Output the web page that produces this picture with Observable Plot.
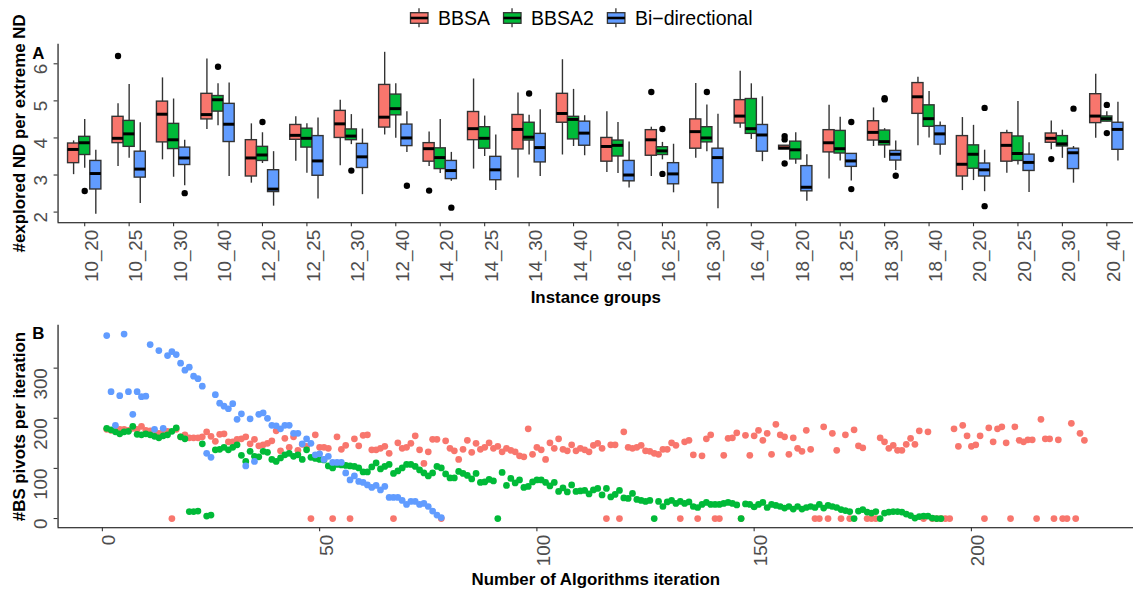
<!DOCTYPE html>
<html><head><meta charset="utf-8">
<script src="https://cdn.jsdelivr.net/npm/d3@7"></script>
<script src="https://cdn.jsdelivr.net/npm/@observablehq/plot@0.6"></script>
<style>
html,body{margin:0;padding:0;background:#fff;overflow:hidden;width:1133px;height:594px;}
#root{position:relative;width:1133px;height:594px;overflow:hidden;font-family:"Liberation Sans",Arial,Helvetica,sans-serif;}
#root svg{position:absolute;left:0;}
</style></head><body><div id="root"></div>
<script>
// ---------- data: panel A (box statistics) ----------
const groups = ["10_20","10_25","10_30","10_40","12_20","12_25","12_30","12_40","14_20","14_25","14_30","14_40","16_20","16_25","16_30","16_40","18_20","18_25","18_30","18_40","20_20","20_25","20_30","20_40"];
const methods = ["BBSA","BBSA2","Bi\u2212directional"];
const colors = ["#F8766D","#00BA38","#619CFF"];

// [lower whisker, Q1, median, Q3, upper whisker] per group
const bbsaStats = [[3.01,3.32,3.69,3.85,3.92],[3.23,3.86,3.99,4.57,4.92],[3.41,3.88,4.64,4.98,5.62],[4.23,4.50,4.63,5.19,6.13],[2.78,2.96,3.46,3.94,4.38],[3.37,3.95,4.07,4.35,4.57],[3.25,4.00,4.38,4.73,5.02],[4.08,4.28,4.56,5.43,6.31],[3.23,3.36,3.71,3.86,4.16],[3.16,3.94,4.25,4.70,5.59],[2.92,3.69,4.23,4.62,5.21],[3.54,4.41,4.66,5.19,6.11],[3.07,3.36,3.77,4.00,4.71],[2.96,3.52,3.95,4.21,4.29],[3.45,3.71,4.17,4.50,5.47],[4.26,4.39,4.59,5.02,5.80],[3.69,3.69,3.73,3.79,3.79],[2.89,3.61,3.87,4.21,4.88],[3.77,3.93,4.15,4.45,4.81],[3.79,4.65,5.11,5.48,5.64],[2.58,2.96,3.29,4.05,4.55],[3.05,3.36,3.80,4.13,4.21],[3.68,3.87,3.99,4.12,4.46],[3.99,4.40,4.59,5.18,5.72]];
const bbsa2Stats = [[3.18,3.54,3.87,4.03,4.50],[3.45,3.76,4.11,4.46,5.44],[2.94,3.70,3.95,4.38,5.05],[4.33,4.71,5.03,5.13,5.46],[3.31,3.38,3.54,3.76,4.14],[3.05,3.74,3.99,4.25,4.38],[3.82,3.94,4.05,4.23,4.63],[3.99,4.61,4.79,5.17,5.46],[3.04,3.16,3.47,3.72,4.50],[3.50,3.71,3.99,4.29,4.59],[3.54,3.93,4.02,4.41,4.61],[3.77,3.96,4.50,4.57,5.31],[3.04,3.50,3.80,3.93,4.42],[3.41,3.54,3.65,3.75,3.88],[3.63,3.88,4.00,4.29,4.89],[3.96,4.11,4.25,5.05,5.46],[3.29,3.42,3.68,3.90,4.14],[3.38,3.58,3.71,4.19,4.56],[3.45,3.80,3.90,4.20,4.25],[4.00,4.30,4.52,4.88,5.25],[2.85,3.17,3.56,3.80,4.34],[3.27,3.38,3.58,4.04,4.98],[3.45,3.77,3.84,4.05,4.21],[4.44,4.44,4.52,4.58,4.71]];
const biStats = [[1.94,2.61,3.04,3.38,3.67],[2.23,2.93,3.16,3.63,4.41],[2.71,3.27,3.46,3.74,3.94],[2.96,3.89,4.37,4.92,5.48],[2.16,2.54,2.62,3.13,3.63],[2.35,2.98,3.38,4.05,4.54],[2.47,3.19,3.49,3.84,4.24],[3.61,3.78,4.00,4.36,4.71],[2.83,2.89,3.12,3.38,3.61],[2.58,2.86,3.14,3.49,4.08],[2.96,3.34,3.74,4.11,4.76],[3.52,3.79,4.13,4.44,4.60],[2.65,2.83,3.00,3.38,3.89],[2.52,2.75,3.03,3.32,3.83],[2.09,2.78,3.47,3.71,4.64],[3.36,3.63,4.08,4.35,5.11],[2.29,2.56,2.67,3.24,3.55],[2.84,3.22,3.38,3.57,3.57],[3.12,3.39,3.56,3.65,3.92],[3.53,3.82,4.11,4.32,4.43],[2.55,2.96,3.14,3.31,3.67],[2.53,3.11,3.34,3.55,3.87],[2.78,3.16,3.60,3.71,3.77],[3.38,3.68,4.23,4.41,4.96]];
// outliers: [group, method index, value]
const outliers = [["10_20",1,2.57],["10_25",0,6.21],["10_30",2,2.51],["10_40",1,5.92],["12_20",1,4.43],["12_30",1,3.12],["12_40",2,2.71],["14_20",0,2.58],["14_20",2,2.12],["14_30",1,5.20],["16_25",0,5.24],["16_25",1,4.24],["16_25",1,3.03],["16_30",1,5.24],["18_20",0,4.05],["18_20",0,3.96],["18_20",0,3.31],["18_25",2,4.43],["18_25",2,2.62],["18_30",1,5.04],["18_30",1,5.07],["18_30",2,2.98],["20_20",2,4.81],["20_20",2,2.16],["20_30",0,3.43],["20_30",2,4.79],["20_40",1,4.89],["20_40",1,4.13]];
const yTicksA = [2,3,4,5,6];

// ---------- data: panel B (pivots per iteration, iteration = index + 1) ----------
const bbsaPivots = [178,176,175,178,178,176,180,178,184,176,175,172,170,176,174,0,178,163,167,161,161,161,163,173,164,154,168,169,153,153,158,159,163,149,158,145,147,150,155,175,135,160,142,163,136,148,144,0,167,142,142,140,0,163,138,146,0,159,145,166,167,137,137,140,144,130,0,151,140,142,150,165,137,110,133,158,158,0,155,140,135,118,138,156,132,150,138,142,151,140,144,133,140,136,133,125,123,179,128,142,137,118,151,140,159,138,135,147,135,140,137,133,146,150,140,0,147,147,0,173,142,140,142,146,135,134,130,128,138,138,151,146,0,153,156,127,0,125,159,167,0,0,126,160,161,171,0,166,126,165,176,156,170,128,188,167,163,128,161,140,134,176,138,0,0,183,0,170,136,0,167,0,177,145,141,0,0,0,161,153,140,146,136,136,148,160,148,175,0,173,0,0,0,0,0,179,144,186,165,144,147,165,0,181,153,179,183,151,0,183,156,153,157,157,0,198,159,159,0,157,0,0,190,0,170,156];
const bbsa2Pivots = [180,177,173,169,173,174,184,168,167,169,167,164,161,165,167,174,181,163,159,14,14,15,149,5,7,137,138,142,137,142,147,126,114,134,124,123,134,132,118,114,121,127,130,124,127,118,137,122,120,118,117,105,101,108,107,106,105,104,101,93,93,103,111,99,104,108,90,95,101,108,108,104,97,91,85,91,104,101,89,81,81,94,90,86,79,90,72,73,78,75,0,92,66,80,71,77,62,64,73,77,77,72,65,72,54,61,53,67,54,55,56,49,57,60,47,60,43,48,56,41,40,50,38,36,34,36,0,34,24,33,36,30,34,30,33,24,22,28,32,28,28,28,30,32,30,27,0,29,28,23,28,32,22,28,26,24,21,24,19,24,19,22,24,22,28,21,26,24,22,18,16,14,0,15,18,13,11,14,0,11,13,14,14,13,9,6,1,4,5,5,1,0,0];
const biPivots = [365,253,186,245,368,253,208,253,243,244,347,178,335,180,325,333,327,310,296,302,284,279,264,130,122,247,230,224,219,229,198,209,105,199,114,208,211,200,186,185,179,186,186,170,170,149,159,150,127,129,118,124,112,112,112,91,77,85,74,72,67,62,66,57,64,42,42,42,36,28,34,34,28,30,24,15,7,2];
const xTicksB = [0,50,100,150,200];
const yTicksB = [0,100,200,300];

// ---------- build tables ----------
const statsByMethod = [bbsaStats, bbsa2Stats, biStats];
const boxRows = [];
statsByMethod.forEach((arr, m) => arr.forEach((s, g) => {
  const xc = g + 1 + (m - 1) * 0.25;
  boxRows.push({method: methods[m], xc, x1: xc - 0.125, x2: xc + 0.125, lo: s[0], q1: s[1], med: s[2], q3: s[3], hi: s[4]});
}));
const outRows = outliers.map(([g, m, v]) => ({xc: groups.indexOf(g) + 1 + (m - 1) * 0.25, v}));
const pivotRows = [];
[bbsaPivots, bbsa2Pivots, biPivots].forEach((arr, m) => arr.forEach((v, i) => pivotRows.push({method: methods[m], iter: i + 1, v})));

const FONT = '"Liberation Sans", Arial, Helvetica, sans-serif';
const W = 1142;
const TICK = 19;
const gray = "#4D4D4D";
const root = document.getElementById("root");

// ---------- panel A ----------
const xDomA = [0.4, 24.6], yDomA = [1.713, 6.53];
const plotA = Plot.plot({
  width: W, height: 305,
  marginLeft: 58, marginRight: 0, marginTop: 44, marginBottom: 81,
  x: {domain: xDomA, label: null},
  y: {domain: yDomA, label: null},
  color: {domain: methods, range: colors},
  style: {fontFamily: FONT, background: "transparent", overflow: "visible"},
  marks: [
    Plot.ruleX(boxRows, {x: "xc", y1: "lo", y2: "hi", stroke: "#333", strokeWidth: 1.4}),
    Plot.rect(boxRows, {x1: "x1", x2: "x2", y1: "q1", y2: "q3", fill: "method", stroke: "#333", strokeWidth: 1.4}),
    Plot.ruleY(boxRows, {y: "med", x1: "x1", x2: "x2", stroke: "#000", strokeWidth: 3}),
    Plot.dot(outRows, {x: "xc", y: "v", r: 3.2, fill: "#000", stroke: null}),
    Plot.ruleX([xDomA[0]], {stroke: "#000", strokeWidth: 1.1}),
    Plot.ruleY([yDomA[0]], {stroke: "#000", strokeWidth: 1.1}),
    Plot.axisX(d3.range(1, groups.length + 1), {tickSize: 4, tickFormat: () => "", label: null, stroke: "#333", strokeWidth: 1.1}),
    Plot.axisY(yTicksA, {tickSize: 4, tickFormat: () => "", label: null, stroke: "#333", strokeWidth: 1.1}),
    Plot.text(groups, {x: (d, i) => i + 1, text: d => d, frameAnchor: "bottom", dy: 7, dx: 7, rotate: -90, textAnchor: "end", lineAnchor: "middle", fontSize: TICK, fill: gray}),
    Plot.text(yTicksA, {y: d => d, text: d => String(d), frameAnchor: "left", dx: -17, rotate: -90, textAnchor: "end", lineAnchor: "middle", fontSize: TICK, fill: gray}),
    Plot.text(["#explored ND per extreme ND"], {text: d => d, frameAnchor: "left", dx: -39, rotate: -90, textAnchor: "middle", lineAnchor: "middle", fontSize: 17, fontWeight: "bold", fill: "#000"}),
    Plot.text(["Instance groups"], {text: d => d, frameAnchor: "bottom", dy: 75, textAnchor: "middle", lineAnchor: "middle", fontSize: 17, fontWeight: "bold", fill: "#000"}),
    Plot.text(["A"], {text: d => d, frameAnchor: "top-left", dx: -26, dy: 3, textAnchor: "start", lineAnchor: "top", fontSize: 17, fontWeight: "bold", fill: "#000"})
  ]
});
plotA.style.top = "0px";
root.appendChild(plotA);

// ---------- panel B ----------
const xDomB = [-10.2, 237.3], yDomB = [-18.35, 385.4];
const plotB = Plot.plot({
  width: W, height: 289,
  marginLeft: 58, marginRight: 0, marginTop: 20, marginBottom: 65,
  x: {domain: xDomB, label: null},
  y: {domain: yDomB, label: null},
  color: {domain: methods, range: colors},
  style: {fontFamily: FONT, background: "transparent", overflow: "visible"},
  marks: [
    Plot.dot(pivotRows, {x: "iter", y: "v", fill: "method", r: 3.4, stroke: null}),
    Plot.ruleX([xDomB[0]], {stroke: "#000", strokeWidth: 1.1}),
    Plot.ruleY([yDomB[0]], {stroke: "#000", strokeWidth: 1.1}),
    Plot.axisX(xTicksB, {tickSize: 4, tickFormat: () => "", label: null, stroke: "#333", strokeWidth: 1.1}),
    Plot.axisY(yTicksB, {tickSize: 4, tickFormat: () => "", label: null, stroke: "#333", strokeWidth: 1.1}),
    Plot.text(xTicksB, {x: d => d, text: d => String(d), frameAnchor: "bottom", dy: 7, dx: 7, rotate: -90, textAnchor: "end", lineAnchor: "middle", fontSize: TICK, fill: gray}),
    Plot.text(yTicksB, {y: d => d, text: d => String(d), frameAnchor: "left", dx: -17, rotate: -90, textAnchor: "end", lineAnchor: "middle", fontSize: TICK, fill: gray}),
    Plot.text(["#BS pivots per iteration"], {text: d => d, frameAnchor: "left", dx: -39, rotate: -90, textAnchor: "middle", lineAnchor: "middle", fontSize: 17, fontWeight: "bold", fill: "#000"}),
    Plot.text(["Number of Algorithms iteration"], {text: d => d, frameAnchor: "bottom", dy: 52, textAnchor: "middle", lineAnchor: "middle", fontSize: 17, fontWeight: "bold", fill: "#000"}),
    Plot.text(["B"], {text: d => d, frameAnchor: "top-left", dx: -26, dy: 2, textAnchor: "start", lineAnchor: "top", fontSize: 17, fontWeight: "bold", fill: "#000"})
  ]
});
plotB.style.top = "305px";
root.appendChild(plotB);

// ---------- legend ----------
const leg = d3.select(root).append("svg").attr("width", 1133).attr("height", 36).style("top", "0px")
  .style("font-family", FONT);
let lx = 410;
methods.forEach((m, i) => {
  const g = leg.append("g").attr("transform", `translate(${lx},0)`);
  g.append("line").attr("x1", 9).attr("x2", 9).attr("y1", 8.3).attr("y2", 27.3).attr("stroke", "#333").attr("stroke-width", 1.3);
  g.append("rect").attr("x", 0.5).attr("y", 12.7).attr("width", 17.5).attr("height", 10.6).attr("fill", colors[i]).attr("stroke", "#333").attr("stroke-width", 1.3);
  g.append("line").attr("x1", 0.5).attr("x2", 18).attr("y1", 18).attr("y2", 18).attr("stroke", "#000").attr("stroke-width", 2.6);
  const t = g.append("text").attr("x", 28).attr("y", 25).attr("font-size", 19.5).attr("fill", "#000").text(m);
  lx += 28 + t.node().getComputedTextLength() + 13;
});
</script>
</body></html>
